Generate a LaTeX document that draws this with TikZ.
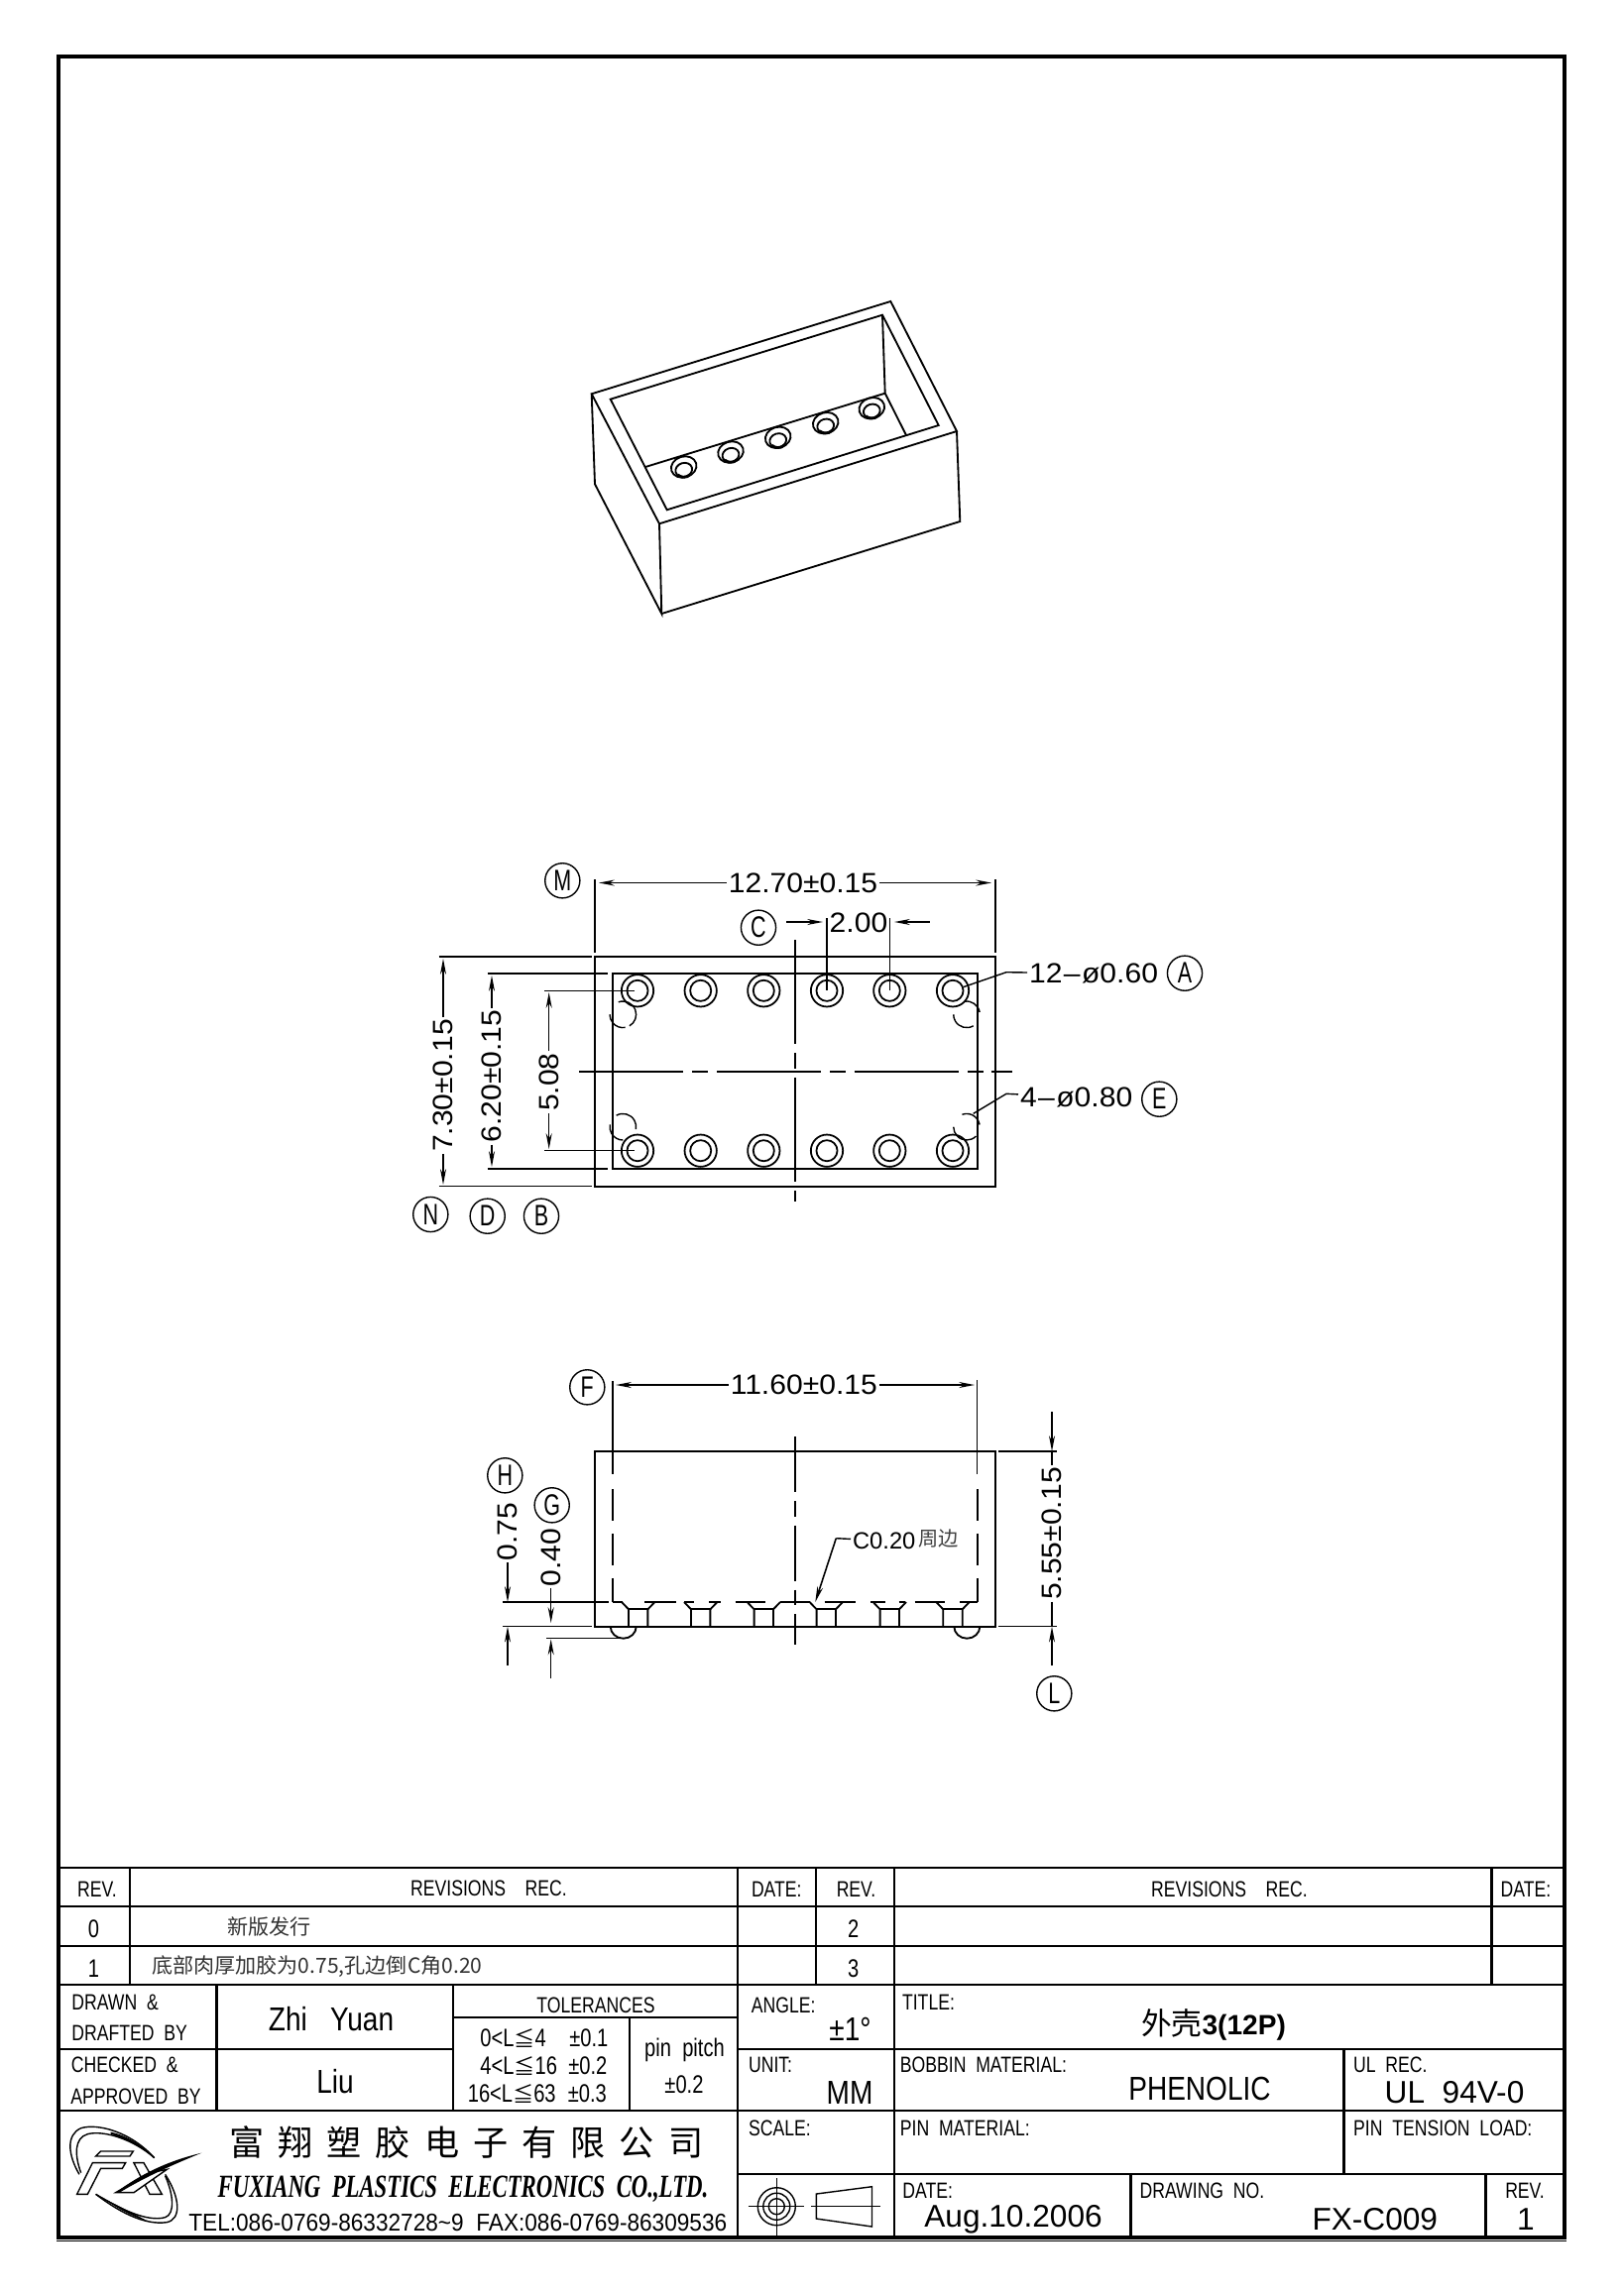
\documentclass[tikz,border=0pt]{standalone}
\usepackage{fontspec}
\usepackage{tikz}
\usetikzlibrary{arrows.meta}
\setmainfont{Liberation Sans}
\newfontfamily\cjk{Noto Sans CJK SC}
\newfontfamily\cjkwide[LetterSpace=40]{Noto Sans CJK SC}
\newfontfamily\narrowfont[FakeStretch=0.79]{Liberation Sans}
\newfontfamily\tagfont[FakeStretch=0.72]{Liberation Sans}
\newfontfamily\midfont[FakeStretch=0.84]{Liberation Sans}
\newfontfamily\dimfont[FakeStretch=1.07]{Liberation Sans}
\newfontfamily\telfont[FakeStretch=0.92]{Liberation Sans}
\newfontfamily\logofont[FakeStretch=0.7]{Liberation Serif}
\newcommand{\isohole}[2]{
	\draw[part_line] (#1,#2) ellipse [x radius=13,y radius=10.5,rotate=17];
	\draw[part_line] (#1,#2+3) ellipse [x radius=8.5,y radius=7,rotate=17];
	\draw[line width=1.6pt] (#1-6,#2+8) .. controls (#1-3,#2+11) and (#1+3,#2+11) .. (#1+6,#2+8);
}
\newcommand{\slothole}[1]{
	\draw[part_line] (#1-16.7,1616) -- (#1-9.7,1623.3) -- (#1-9.7,1640.7);
	\draw[part_line] (#1+16.7,1616) -- (#1+9.7,1623.3) -- (#1+9.7,1640.7);
	\draw[part_line] (#1-9.7,1623.3) -- (#1+9.7,1623.3);
}
\begin{document}
\begin{tikzpicture}[x=0.02cm, y=-0.02cm,
		frame_line/.style={draw=black,line width=2.6pt},
		table_line/.style={draw=black,line width=1.4pt},
		part_line/.style={draw=black,line width=1.05pt},
		thin_line/.style={draw=black,line width=0.8pt},
		center_line/.style={draw=black,line width=1pt,dash pattern=on 60pt off 5pt on 9pt off 5pt},
		center_line_short/.style={draw=black,line width=1pt,dash pattern=on 32pt off 5pt on 9pt off 5pt},
		hidden_line/.style={draw=black,line width=1.05pt,dash pattern=on 18.2pt off 7.4pt},
		dim_arrow/.style={draw=black,line width=0.9pt,-{Stealth[length=9pt,width=3.4pt]}},
		hole_outer/.style={circle,draw=black,line width=1pt,minimum size=18.4pt,inner sep=0pt},
		hole_inner/.style={circle,draw=black,line width=1pt,minimum size=12pt,inner sep=0pt},
		dim_text/.style={font=\dimfont\fontsize{16}{16}\selectfont,inner sep=1pt},
		dim_text_v/.style={dim_text,rotate=90},
		tag_style/.style={circle,draw=black,line width=0.8pt,minimum size=20pt,inner sep=0pt,font=\tagfont\fontsize{17}{17}\selectfont},
		small_label/.style={font=\narrowfont\fontsize{12.7}{13}\selectfont,inner sep=0pt},
		left_label/.style={small_label,anchor=west},
		mid_label/.style={font=\midfont\fontsize{19}{19}\selectfont,inner sep=0pt},
		big_label/.style={font=\fontsize{18}{19}\selectfont,inner sep=0pt},
		tol_label/.style={font=\narrowfont\fontsize{14.5}{15}\selectfont,inner sep=0pt}]

	\useasboundingbox (0,0) rectangle (1637,2315);
	\fill[white] (0,0) rectangle (1637,2315);

	\draw[frame_line] (59,57) rectangle (1578,2257);
	\draw[line width=0.8pt] (57,2260.5) -- (1580,2260.5);

	\draw[part_line] (596.7,397.3) -- (898.3,304) -- (965,435) -- (665,528.3) -- cycle;
	\draw[part_line] (596.7,397.3) -- (600,488.3) -- (667.3,619) -- (665,528.3);
	\draw[part_line] (667.3,619) -- (968.3,526) -- (965,435);
	\draw[part_line] (615.7,402.7) -- (890,317.7) -- (946.7,429) -- (672.7,514.3) -- cycle;
	\draw[part_line] (890,317.7) -- (892.7,396.7) -- (914,439);
	\draw[part_line] (651,471) -- (892.7,396.7);
	\isohole{689.7}{471}
	\isohole{737}{456}
	\isohole{784.7}{441.3}
	\isohole{832.7}{426.7}
	\isohole{879.3}{411.7}

	\draw[part_line] (600,965) rectangle (1004,1196.7);
	\draw[part_line] (617.7,982) rectangle (985.7,1179);
	\draw[center_line] (584,1080.7) -- (1020.7,1080.7);
	\draw[center_line] (802,948) -- (802,1212);

	\node[hole_outer] (h1) at (643,999.3) {};
	\node[hole_outer] (h2) at (706.7,999.3) {};
	\node[hole_outer] (h3) at (770.3,999.3) {};
	\node[hole_outer] (h4) at (834,999.3) {};
	\node[hole_outer] (h5) at (897.3,999.3) {};
	\node[hole_outer] (h6) at (961,999.3) {};
	\node[hole_outer] (h7) at (643,1160.7) {};
	\node[hole_outer] (h8) at (706.7,1160.7) {};
	\node[hole_outer] (h9) at (770.3,1160.7) {};
	\node[hole_outer] (h10) at (834,1160.7) {};
	\node[hole_outer] (h11) at (897.3,1160.7) {};
	\node[hole_outer] (h12) at (961,1160.7) {};
	\node[hole_inner] (i1) at (643,999.3) {};
	\node[hole_inner] (i2) at (706.7,999.3) {};
	\node[hole_inner] (i3) at (770.3,999.3) {};
	\node[hole_inner] (i4) at (834,999.3) {};
	\node[hole_inner] (i5) at (897.3,999.3) {};
	\node[hole_inner] (i6) at (961,999.3) {};
	\node[hole_inner] (i7) at (643,1160.7) {};
	\node[hole_inner] (i8) at (706.7,1160.7) {};
	\node[hole_inner] (i9) at (770.3,1160.7) {};
	\node[hole_inner] (i10) at (834,1160.7) {};
	\node[hole_inner] (i11) at (897.3,1160.7) {};
	\node[hole_inner] (i12) at (961,1160.7) {};

	\draw[thin_line] (628.3,1023.3) ++(-110:13.3) arc (-110:60:13.3);
	\draw[thin_line] (628.3,1023.3) ++(80:13.3) arc (80:180:13.3);
	\draw[thin_line] (628.3,1136.7) ++(-120:13.3) arc (-120:10:13.3);
	\draw[thin_line] (628.3,1136.7) ++(90:13.3) arc (90:190:13.3);
	\draw[thin_line] (975,1023.3) ++(-100:13.3) arc (-100:-10:13.3);
	\draw[thin_line] (975,1023.3) ++(60:13.3) arc (60:180:13.3);
	\draw[thin_line] (975,1136.7) ++(-110:13.3) arc (-110:-10:13.3);
	\draw[thin_line] (975,1136.7) ++(45:13.3) arc (45:180:13.3);

	\node[dim_text] (d1270) at (810,890.5) {12.70±0.15};
	\coordinate (d1270a) at (604,890.5);
	\coordinate (d1270b) at (1000,890.5);
	\draw[dim_arrow] (d1270) -- (d1270a);
	\draw[dim_arrow] (d1270) -- (d1270b);
	\draw[thin_line] (600,887) -- (600,961);
	\draw[thin_line] (1004,887) -- (1004,961);

	\node[dim_text] (d200) at (866,930.7) {2.00};
	\coordinate (d200a) at (793,930);
	\coordinate (d200b) at (830,930);
	\coordinate (d200c) at (937.7,930);
	\coordinate (d200d) at (902,930);
	\draw[dim_arrow] (d200a) -- (d200b);
	\draw[dim_arrow] (d200c) -- (d200d);
	\draw[thin_line] (834,926) -- (834,999.3);
	\draw[thin_line] (897.3,926) -- (897.3,999.3);

	\node[dim_text,anchor=west] (d060) at (1036,982) {12\kern0.8pt–\kern0.8pt ø0.60};
	\coordinate (d060a) at (1015,980.7);
	\draw[thin_line] (d060) -- (d060a) -- (i6);
	\node[dim_text,anchor=west] (d080) at (1027,1106.7) {4\kern0.8pt–\kern0.8pt ø0.80};
	\coordinate (d080a) at (1015,1103.3);
	\coordinate (d080b) at (981.7,1123.3);
	\draw[thin_line] (d080) -- (d080a) -- (d080b);

	\node[tag_style] (tag_m) at (567.3,888.3) {M};
	\node[tag_style] (tag_c) at (765,935.7) {C};
	\node[tag_style] (tag_a) at (1195,981.7) {A};
	\node[tag_style] (tag_e) at (1169.3,1108.7) {E};
	\node[tag_style] (tag_n) at (434.3,1225) {N};
	\node[tag_style] (tag_d) at (491.7,1226.7) {D};
	\node[tag_style] (tag_b) at (546,1226.7) {B};

	\node[dim_text_v] (d730) at (447,1095) {7.30±0.15};
	\coordinate (d730a) at (447,967);
	\coordinate (d730b) at (447,1195);
	\draw[dim_arrow] (d730) -- (d730a);
	\draw[dim_arrow] (d730) -- (d730b);
	\draw[thin_line] (442.7,965) -- (596.7,965);
	\draw[thin_line] (442.7,1196.7) -- (596.7,1196.7);

	\node[dim_text_v] (d620) at (496,1085.7) {6.20±0.15};
	\coordinate (d620a) at (496,984);
	\coordinate (d620b) at (496,1177);
	\draw[dim_arrow] (d620) -- (d620a);
	\draw[dim_arrow] (d620) -- (d620b);
	\draw[thin_line] (491.7,982) -- (613.3,982);
	\draw[thin_line] (491.7,1179) -- (613.3,1179);

	\node[dim_text_v] (d508) at (553.7,1091.7) {5.08};
	\coordinate (d508a) at (553.7,1001);
	\coordinate (d508b) at (553.7,1159);
	\draw[dim_arrow] (d508) -- (d508a);
	\draw[dim_arrow] (d508) -- (d508b);
	\draw[thin_line] (549,999.3) -- (640,999.3);
	\draw[thin_line] (549,1160.7) -- (640,1160.7);

	\draw[part_line] (600,1464) rectangle (1004,1640.7);
	\draw[center_line_short] (802,1449) -- (802,1659);
	\draw[thin_line] (618,1393) -- (618,1487);
	\draw[thin_line] (985.7,1392) -- (985.7,1487);
	\draw[hidden_line] (618,1502) -- (618,1616);
	\draw[hidden_line] (985.7,1502) -- (985.7,1616);
	\draw[part_line] (618,1616) -- (628,1616);
	\draw[part_line] (650,1616) -- (681.7,1616);
	\draw[part_line] (690,1616) -- (700,1616);
	\draw[part_line] (715,1616) -- (726.7,1616);
	\draw[part_line] (741.7,1616) -- (771.7,1616);
	\draw[part_line] (786.7,1616) -- (816.7,1616);
	\draw[part_line] (831.7,1616) -- (863,1616);
	\draw[part_line] (878,1616) -- (893,1616);
	\draw[part_line] (906.7,1616) -- (913,1616);
	\draw[part_line] (922.7,1616) -- (953,1616);
	\draw[part_line] (968,1616) -- (985.7,1616);
	\slothole{643.7}
	\slothole{706.7}
	\slothole{770.3}
	\slothole{833.3}
	\slothole{897.3}
	\slothole{961}
	\draw[part_line] (615.7,1640.7) arc (180:0:13 and 12);
	\draw[part_line] (962.3,1640.7) arc (180:0:13 and 12);

	\node[dim_text] (d1160) at (810.8,1397) {11.60±0.15};
	\coordinate (d1160a) at (621,1397);
	\coordinate (d1160b) at (983,1397);
	\draw[dim_arrow] (d1160) -- (d1160a);
	\draw[dim_arrow] (d1160) -- (d1160b);

	\node[dim_text_v] (d555) at (1061,1547) {5.55±0.15};
	\coordinate (d555a) at (1061,1424);
	\coordinate (d555b) at (1061,1464);
	\coordinate (d555c) at (1061,1680);
	\coordinate (d555d) at (1061,1640.7);
	\draw[dim_arrow] (d555a) -- (d555b);
	\draw[dim_arrow] (d555c) -- (d555d);
	\draw[thin_line] (d555) -- (d555b);
	\draw[thin_line] (d555) -- (d555d);
	\draw[thin_line] (1006.7,1464) -- (1065.7,1464);
	\draw[thin_line] (1006.7,1640.7) -- (1065.7,1640.7);

	\node[dim_text_v] (d075) at (512,1545) {0.75};
	\coordinate (d075a) at (512,1616);
	\coordinate (d075b) at (512,1680);
	\coordinate (d075c) at (512,1640.7);
	\draw[dim_arrow] (d075) -- (d075a);
	\draw[dim_arrow] (d075b) -- (d075c);
	\draw[thin_line] (507,1616) -- (614,1616);
	\draw[thin_line] (507,1640.7) -- (596.7,1640.7);

	\node[dim_text_v] (d040) at (555.7,1571) {0.40};
	\coordinate (d040a) at (555.7,1637);
	\coordinate (d040b) at (555.7,1693);
	\coordinate (d040c) at (555.7,1653.5);
	\draw[dim_arrow] (d040) -- (d040a);
	\draw[dim_arrow] (d040b) -- (d040c);
	\draw[thin_line] (551,1652.7) -- (630,1652.7);

	\node[inner sep=1pt,anchor=west,font=\fontsize{13.5}{14}\selectfont] (c020) at (858,1554) {C0.20};
	\node[inner sep=0pt,anchor=west,text=black!75,font=\cjk\fontsize{11.5}{12}\selectfont] (c020z) at (926,1552) {周边};
	\coordinate (c020a) at (843.3,1551.7);
	\coordinate (c020b) at (822.3,1616);
	\draw[thin_line] (c020) -- (c020a);
	\draw[dim_arrow] (c020a) -- (c020b);

	\node[tag_style] (tag_f) at (592.3,1399.3) {F};
	\node[tag_style] (tag_h) at (509.3,1488.3) {H};
	\node[tag_style] (tag_g) at (556.7,1518.3) {G};
	\node[tag_style] (tag_l) at (1063.3,1708.3) {L};

	\draw[table_line] (59,1884) -- (1578,1884);
	\draw[table_line] (59,1923) -- (1578,1923);
	\draw[table_line] (59,1963) -- (1578,1963);
	\draw[table_line] (59,2002) -- (1578,2002);
	\draw[table_line] (59,2067) -- (457,2067);
	\draw[table_line] (744,2067) -- (1578,2067);
	\draw[table_line] (59,2129) -- (1578,2129);
	\draw[table_line] (744,2193) -- (1578,2193);
	\draw[table_line] (457,2035) -- (744,2035);
	\draw[table_line] (131,1884) -- (131,2002);
	\draw[table_line] (744,1884) -- (744,2257);
	\draw[table_line] (823,1884) -- (823,2002);
	\draw[table_line] (902,1884) -- (902,2257);
	\draw[table_line] (1504.5,1884) -- (1504.5,2002);
	\draw[table_line] (218.5,2002) -- (218.5,2129);
	\draw[table_line] (457,2002) -- (457,2129);
	\draw[table_line] (635,2035) -- (635,2129);
	\draw[table_line] (1355.5,2067) -- (1355.5,2193);
	\draw[table_line] (1140.5,2193) -- (1140.5,2257);
	\draw[table_line] (1498.5,2193) -- (1498.5,2257);

	\node[small_label] (t_rev1) at (98,1906) {REV.};
	\node[small_label] (t_rec1) at (493,1905) {REVISIONS\ \ \ \ REC.};
	\node[small_label] (t_date1) at (783.3,1905.7) {DATE:};
	\node[small_label] (t_rev2) at (863.5,1906) {REV.};
	\node[small_label] (t_rec2) at (1240,1906) {REVISIONS\ \ \ \ REC.};
	\node[small_label] (t_date2) at (1539,1905.7) {DATE:};
	\node[tol_label] (t_r0) at (94.5,1945.7) {0};
	\node[tol_label] (t_r1) at (94.5,1986) {1};
	\node[tol_label] (t_r2) at (860.8,1946) {2};
	\node[tol_label] (t_r3) at (860.8,1986) {3};
	\node[inner sep=0pt,text=black!80,font=\cjk\fontsize{12}{12}\selectfont] (t_new) at (271.5,1943.5) {新版发行};
	\node[inner sep=0pt,anchor=west,text=black!80,font=\cjk\fontsize{12}{12}\selectfont] (t_chg) at (153,1983.5) {底部肉厚加胶为0.75,孔边倒C角0.20};

	\node[left_label] (t_drawn) at (72,2020) {DRAWN\ \ \&};
	\node[left_label] (t_drafted) at (72,2051) {DRAFTED\ \ BY};
	\node[left_label] (t_checked) at (71.5,2082.7) {CHECKED\ \ \&};
	\node[left_label] (t_approved) at (71,2114.3) {APPROVED\ \ BY};
	\node[mid_label] (t_zhi) at (334,2036.7) {Zhi\ \ \ Yuan};
	\node[mid_label] (t_liu) at (338,2100) {Liu};
	\node[small_label] (t_tol) at (601,2023) {TOLERANCES};
	\node[tol_label,anchor=west] (t_l1) at (484,2056) {0<L{\cjk\fontsize{12}{12}\selectfont ≦}4};
	\node[tol_label,anchor=west] (t_l2) at (484,2084) {4<L{\cjk\fontsize{12}{12}\selectfont ≦}16};
	\node[tol_label,anchor=west] (t_l3) at (471.5,2112) {16<L{\cjk\fontsize{12}{12}\selectfont ≦}63};
	\node[tol_label,anchor=west] (t_p1) at (574,2056) {±0.1};
	\node[tol_label,anchor=west] (t_p2) at (573,2084) {±0.2};
	\node[tol_label,anchor=west] (t_p3) at (572.5,2112) {±0.3};
	\node[tol_label] (t_pin) at (690.5,2068) {pin\ \ pitch};
	\node[tol_label] (t_pinv) at (690,2102.7) {±0.2};

	\node[left_label] (t_angle) at (757.5,2022.3) {ANGLE:};
	\node[mid_label] (t_deg) at (857.5,2046.7) {±1°};
	\node[left_label] (t_title) at (909.7,2019.3) {TITLE:};
	\node[inner sep=0pt,font=\cjk\fontsize{17.5}{18}\selectfont] (t_name) at (1224,2042) {外壳{\rmfamily\bfseries\fontsize{16}{17}\selectfont 3(12P)}};
	\node[left_label] (t_unit) at (754.7,2082.7) {UNIT:};
	\node[mid_label] (t_mm) at (857,2111) {MM};
	\node[left_label] (t_bobbin) at (907.5,2082.7) {BOBBIN\ \ MATERIAL:};
	\node[mid_label] (t_phen) at (1210,2107.3) {PHENOLIC};
	\node[left_label] (t_ul) at (1364.8,2082.7) {UL\ \ REC.};
	\node[big_label] (t_94v) at (1467,2110.7) {UL\ \ 94V-0};
	\node[left_label] (t_scale) at (754.7,2146.7) {SCALE:};
	\node[left_label] (t_pinmat) at (907.5,2146.7) {PIN\ \ MATERIAL:};
	\node[left_label] (t_tension) at (1364.8,2146.7) {PIN\ \ TENSION\ \ LOAD:};
	\node[left_label] (t_date3) at (910,2210) {DATE:};
	\node[big_label] (t_aug) at (1022,2239) {Aug.10.2006};
	\node[left_label] (t_drawing) at (1149.3,2210) {DRAWING\ \ NO.};
	\node[big_label] (t_fx) at (1386.8,2239) {FX-C009};
	\node[small_label] (t_rev3) at (1538,2210) {REV.};
	\node[big_label] (t_one) at (1539,2239) {1};

	\node[inner sep=0pt,anchor=west,font=\cjkwide\fontsize{20}{20}\selectfont] (co_cn) at (231,2161) {富翔塑胶电子有限公司};
	\node[inner sep=0pt,font=\logofont\itshape\bfseries\fontsize{18.5}{19}\selectfont] (co_en) at (467,2208) {FUXIANG\ \ PLASTICS\ \ ELECTRONICS\ \ CO.,LTD.};
	\node[inner sep=0pt,anchor=west,font=\telfont\fontsize{14}{14}\selectfont] (co_tel) at (190,2241.7) {TEL:086-0769-86332728\textasciitilde 9\ \ FAX:086-0769-86309536};

	\draw[thin_line] (783.3,2225.7) circle (19);
	\draw[thin_line] (783.3,2225.7) circle (13.5);
	\draw[thin_line] (783.3,2225.7) circle (8);
	\draw[thin_line] (754.7,2225.7) -- (811.3,2225.7);
	\draw[thin_line] (783.3,2197) -- (783.3,2255);
	\draw[thin_line] (823.4,2213) -- (879.5,2205.7) -- (879.5,2246) -- (823.4,2238) -- cycle;
	\draw[thin_line] (818,2225.7) -- (888.3,2225.7);

	\begin{scope}[shift={(55,2130)},scale=0.3333]
		\draw[thin_line] (75,190) .. controls (40,130) and (35,70) .. (80,50) .. controls (130,35) and (230,60) .. (302,140);
		\draw[thin_line] (80,185) .. controls (60,130) and (60,80) .. (100,68) .. controls (150,55) and (240,85) .. (302,140);
		\fill[black] (170,62) .. controls (220,72) and (270,105) .. (302,140) .. controls (260,105) and (220,85) .. (170,68) -- cycle;
		\draw[thin_line] (125,250) .. controls (190,300) and (270,345) .. (340,335) .. controls (385,325) and (380,260) .. (335,190);
		\draw[thin_line] (125,250) .. controls (200,295) and (280,335) .. (335,320) .. controls (365,310) and (360,250) .. (335,195);
		\fill[black] (125,250) .. controls (170,285) and (220,315) .. (280,330) .. controls (220,315) and (170,285) .. (125,250) -- (150,262) .. controls (190,295) and (240,320) .. (290,332) -- (280,330) -- cycle;
		\draw[thin_line] (125,135) -- (140,120) -- (238,120) -- (228,135) -- cycle;
		\draw[thin_line] (68,250) -- (115,155) -- (215,155) -- (205,172) -- (140,172) -- (100,250) -- cycle;
		\draw[thin_line] (240,155) -- (270,155) -- (325,250) -- (288,250) -- cycle;
		\filldraw[fill=white,line width=0.8pt] (185,245) -- (290,185) -- (340,175) -- (240,245) -- cycle;
		\fill[black] (185,245) .. controls (260,190) and (340,150) .. (445,125) .. controls (360,160) and (280,195) .. (200,243) -- cycle;
	\end{scope}
\end{tikzpicture}
\end{document}
